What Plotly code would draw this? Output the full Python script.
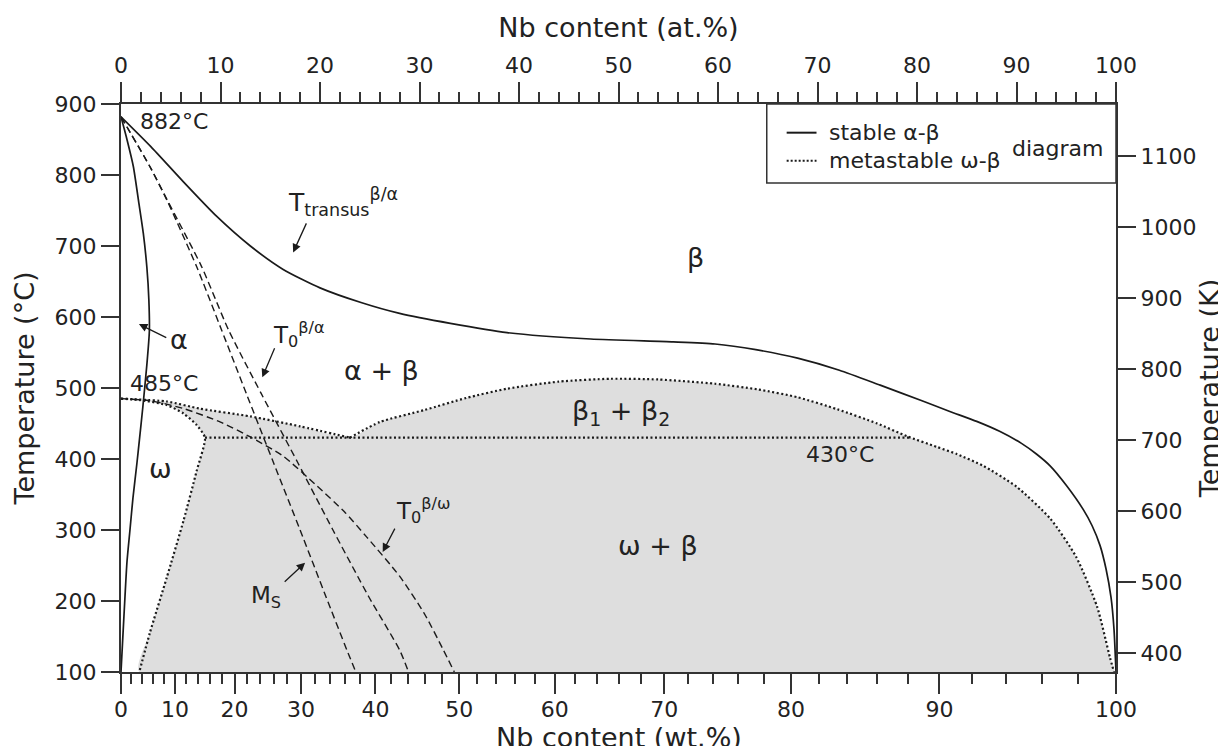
import numpy as np
import plotly.graph_objects as go

# ---------------- data (x in at.% Nb, y in degC) ----------------
M_TI, M_NB = 47.867, 92.906


def wt_to_at(w):
    w = np.asarray(w, dtype=float)
    return 100.0 * (w / M_NB) / (w / M_NB + (100.0 - w) / M_TI)


# stable beta-transus (solid)
transus_at = [0, 3.0, 6.3, 9.6, 13.0, 16.3, 20.0, 24.2, 28.0, 33.1, 38.8, 47.2, 55.5,
              59.7, 63.8, 68.0, 72.2, 76.3, 80.5, 83.3, 86.0, 88.3, 90.5, 92.0, 93.4,
              95.0, 96.7, 97.6, 98.4, 99.0, 99.5, 99.8, 100]
transus_T = [882, 840, 790, 742, 700, 667, 641, 620, 605, 591, 578, 569, 565,
             562, 554, 542, 525, 504, 482, 467, 453, 439, 422, 407, 390,
             363, 329, 306, 278, 245, 205, 160, 100]

# alpha solvus (solid)
alpha_at = [0, 0.6, 1.24, 1.8, 2.24, 2.6, 2.8, 2.85, 2.6, 2.2, 1.85, 1.6, 1.2, 0.9, 0.6, 0.4, 0.15, 0]
alpha_T = [882, 850, 812, 760, 718, 670, 624, 580, 533, 474, 427, 394, 345, 300, 255, 206, 140, 100]

# metastable omega-beta boundaries (dotted)
upper_at = [0, 4.6, 7.9, 13.0, 18.0, 23.0]
upper_T = [485, 481, 471, 460, 446, 430]
dome_at = [23.0, 26.0, 30.5, 34.7, 38.8, 44.0, 49.2, 54.0, 59.7, 64.0, 68.0, 72.0, 76.0, 79.0,
           82.0, 84.0, 86.7, 90.0, 93.4, 96.0, 98.1, 99.4, 99.8]
dome_T = [430, 452, 469, 486, 499, 509, 513, 512, 506, 498, 487, 470, 450, 432,
          417, 407, 390, 361, 316, 262, 192, 120, 100]
omega_at = [0, 1.9, 4.6, 6.3, 7.6, 8.44, 7.6, 6.3, 4.6, 2.9, 1.84]
omega_T = [485, 483, 476, 464, 448, 430, 383, 314, 233, 155, 100]
mono_at = [8.44, 79.4]
mono_T = [430, 430]

# dashed lines
ms_at = [0, 2.9, 4.6, 7.6, 10.1, 12.6, 15.35, 18.0, 20.6, 22.7, 23.6]
ms_T = [882, 812, 765, 671, 582, 492, 394, 300, 206, 131, 100]
t0ba_at = [0, 2.9, 4.6, 8.1, 10.8, 14.1, 17.8, 21.3, 24.9, 28.0, 28.9]
t0ba_T = [882, 812, 766, 671, 582, 492, 394, 300, 206, 131, 100]
t0bw_at = [0, 3.0, 6.3, 10.0, 13.0, 16.3, 19.7, 22.5, 24.7, 28.0, 30.5, 32.4, 33.5]
t0bw_T = [485, 482, 471, 452, 431, 404, 362, 325, 290, 235, 182, 131, 100]

# axis ticks
at_ticks = list(range(0, 101, 10))
at_minor = list(range(0, 101, 2))
wt_labels = list(range(0, 101, 10))
wt_minor = [w for w in range(0, 101, 2) if w % 10 != 0]
degc_ticks = list(range(100, 901, 100))
kelvin_ticks = list(range(400, 1101, 100))

# ---------------- figure ----------------
FONT = "DejaVu Sans"
INK = "#1a1a1a"
AX = "#333333"
FILL = "#dedede"

fig = go.Figure()

poly_x = list(upper_at) + list(dome_at[1:]) + list(omega_at[::-1])
poly_y = list(upper_T) + list(dome_T[1:]) + list(omega_T[::-1])
fig.add_trace(go.Scatter(x=poly_x, y=poly_y, mode="lines", fill="toself", fillcolor=FILL,
                         line=dict(width=0, shape="spline", smoothing=0.6),
                         hoverinfo="skip", showlegend=False))

DOT = dict(color=INK, width=2.2, dash="2px,2.5px", shape="spline", smoothing=0.6)
for xs, ys in [(upper_at, upper_T), (dome_at, dome_T), (omega_at, omega_T), (mono_at, mono_T)]:
    fig.add_trace(go.Scatter(x=xs, y=ys, mode="lines", line=DOT,
                             hoverinfo="skip", showlegend=False))

DASH = dict(color=INK, width=1.4, dash="7px,4px", shape="spline", smoothing=0.6)
for xs, ys in [(ms_at, ms_T), (t0ba_at, t0ba_T), (t0bw_at, t0bw_T)]:
    fig.add_trace(go.Scatter(x=xs, y=ys, mode="lines", line=DASH,
                             hoverinfo="skip", showlegend=False))

SOLID = dict(color=INK, width=1.7, shape="spline", smoothing=0.6)
for xs, ys in [(transus_at, transus_T), (alpha_at, alpha_T)]:
    fig.add_trace(go.Scatter(x=xs, y=ys, mode="lines", line=SOLID,
                             hoverinfo="skip", showlegend=False))

# invisible trace to activate secondary axes
fig.add_trace(go.Scatter(x=[0, 100], y=[373.15, 1173.15], xaxis="x2", yaxis="y2",
                         mode="markers", marker=dict(opacity=0), hoverinfo="skip",
                         showlegend=False))

tickfont = dict(family=FONT, size=22, color="#222")
titlefont = dict(family=FONT, size=27, color="#222")
common = dict(showline=True, linecolor=AX, linewidth=2, ticks="outside", tickcolor=AX,
              tickwidth=1.5, showgrid=False, zeroline=False, tickfont=tickfont,
              automargin=False)

# page body has an 8px margin: the figure is sized so the plot area lands
# at x 121..1116, y 104..672 of the window
fig.update_layout(
    width=1218, height=738,
    margin=dict(l=113, r=110, t=96, b=74),
    paper_bgcolor="white", plot_bgcolor="white",
    font=dict(family=FONT, color="#222"),
    xaxis=dict(range=[0, 100], side="top", tickmode="array", tickvals=at_ticks,
               ticklen=20, minor=dict(tickvals=at_minor, ticklen=10, ticks="outside",
                                      tickcolor=AX, tickwidth=1.5),
               title=dict(text="Nb content (at.%)", font=titlefont, standoff=8), **common),
    xaxis2=dict(range=[0, 100], overlaying="x", side="bottom", anchor="y",
                tickmode="array", tickvals=list(wt_to_at(wt_labels)),
                ticktext=[str(w) for w in wt_labels], ticklen=20, ticklabelstandoff=-3,
                minor=dict(tickvals=list(wt_to_at(wt_minor)), ticklen=10, ticks="outside",
                           tickcolor=AX, tickwidth=1.5), **common),
    yaxis=dict(range=[100, 900], tickmode="array", tickvals=degc_ticks, ticklen=18,
               title=dict(text="Temperature (°C)", font=titlefont, standoff=12), **common),
    yaxis2=dict(range=[373.15, 1173.15], overlaying="y", side="right", anchor="x",
                tickmode="array", tickvals=kelvin_ticks, ticklen=18,
                title=dict(text="Temperature (K)", font=titlefont, standoff=5), **common),
)

# legend box & samples
fig.add_shape(type="rect", xref="x", yref="y", x0=64.9, x1=100, y0=788.7, y1=900,
              line=dict(color=AX, width=1.5), fillcolor="rgba(0,0,0,0)")
fig.add_shape(type="line", xref="x", yref="y", x0=66.9, x1=69.9, y0=859.6, y1=859.6,
              line=dict(color=INK, width=2))
fig.add_shape(type="line", xref="x", yref="y", x0=66.9, x1=69.9, y0=820, y1=820,
              line=dict(color=INK, width=2, dash="2px,2px"))

ann = []

# bottom axis title (placed as an annotation so it can sit at the very bottom edge)
ann.append(dict(x=0.5, y=0, xref="paper", yref="paper", text="Nb content (wt.%)",
                showarrow=False, xanchor="center", yanchor="middle", yshift=-65,
                font=titlefont))


def txt(x, y, s, size=21, xanchor="center"):
    ann.append(dict(x=x, y=y, xref="x", yref="y", text=s, showarrow=False,
                    xanchor=xanchor, yanchor="middle",
                    font=dict(family=FONT, size=size, color="#222")))


def arrow(x0, y0, x1, y1):
    ann.append(dict(x=x1, y=y1, ax=x0, ay=y0, xref="x", yref="y", axref="x", ayref="y",
                    text="", showarrow=True, arrowhead=2, arrowsize=1.3, arrowwidth=1.3,
                    arrowcolor=INK, standoff=0, startstandoff=0))


txt(71.0, 860, "stable α-β", 22, "left")
txt(71.0, 820, "metastable ω-β", 22, "left")
txt(89.3, 838, "diagram", 22, "left")

txt(1.7, 875, "882°C", 22, "left")
txt(0.7, 507, "485°C", 22, "left")
txt(72.3, 406, "430°C", 22)
txt(57.7, 684, "β", 27)
txt(26.2, 524, "α + β", 27)
txt(50.3, 465, "β<sub>1</sub> + β<sub>2</sub>", 27)
txt(54.0, 278, "ω + β", 27)
txt(4.0, 387, "ω", 27)
txt(5.8, 568, "α", 27)
txt(16.6, 762, "T<sub>transus</sub><sup>β/α</sup>", 25, "left")
txt(15.1, 575, "T<sub>0</sub><sup>β/α</sup>", 23, "left")
txt(27.4, 327, "T<sub>0</sub><sup>β/ω</sup>", 23, "left")
txt(12.9, 206, "M<sub>S</sub>", 23, "left")

arrow(18.7, 734, 17.3, 691)
arrow(4.7, 570, 1.8, 590)
arrow(15.5, 558, 14.2, 515)
arrow(27.6, 304, 26.3, 269)
arrow(16.3, 225, 18.5, 254)

fig.update_layout(annotations=ann)
fig.write_html("out.html")
